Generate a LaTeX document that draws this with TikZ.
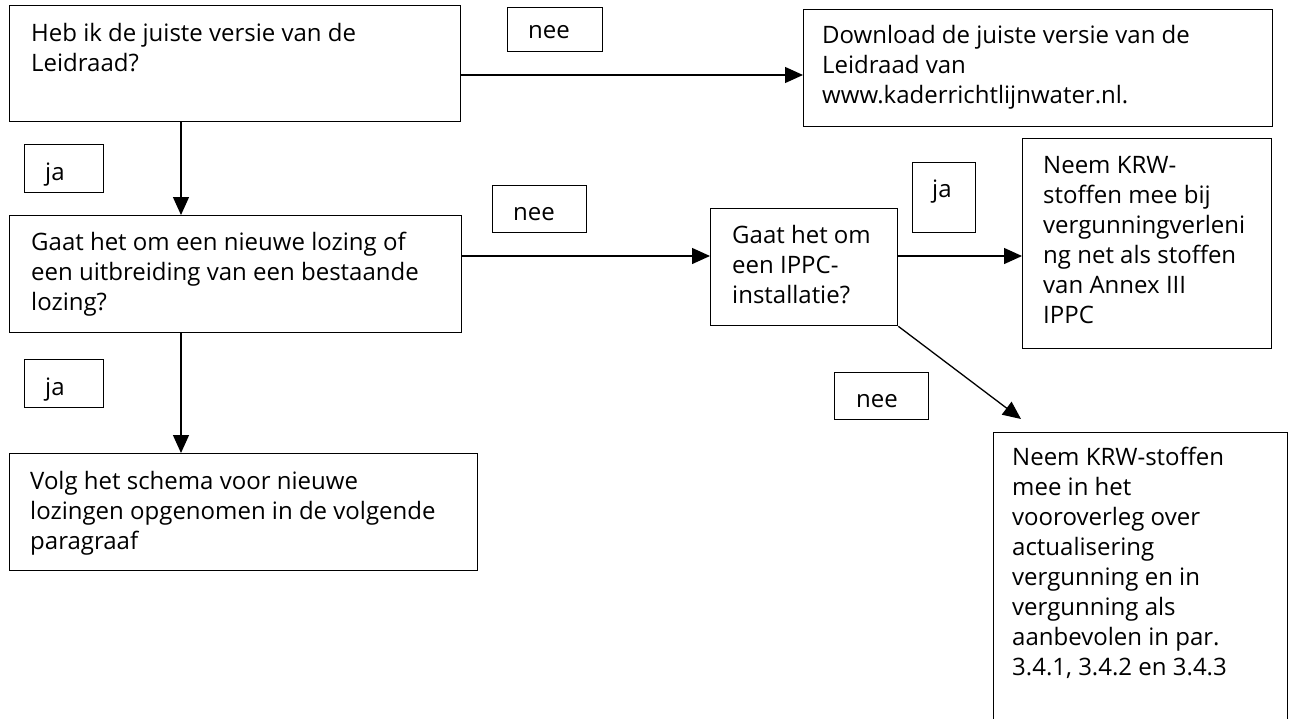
\documentclass[tikz,border=0pt]{standalone}
\usepackage{fontspec}
\setmainfont{Open Sans}
\usetikzlibrary{arrows.meta,calc}
\begin{document}
\begin{tikzpicture}[x=1pt,y=-1pt,
  box/.style={draw, line width=1.3pt, rectangle, inner sep=0pt, anchor=north west},
  txt/.style={inner sep=0pt, anchor=north west, align=left, font=\fontsize{24}{30}\selectfont},
  arr/.style={line width=1.3pt, -{Triangle[length=18pt,width=16pt]}}]
\clip (0,0) rectangle (1289,718);
% boxes
\node[box, minimum width=451, minimum height=116] (b1) at (9,5) {};
\node[box, minimum width=95, minimum height=44] (nee1) at (507,7) {};
\node[box, minimum width=469, minimum height=117] (dl) at (803,9) {};
\node[box, minimum width=79, minimum height=48] (ja1) at (24,144) {};
\node[box, minimum width=452, minimum height=117] (b2) at (9,215) {};
\node[box, minimum width=94, minimum height=47] (nee2) at (492,185) {};
\node[box, minimum width=187, minimum height=117] (ippc) at (710,208) {};
\node[box, minimum width=63, minimum height=70] (ja2) at (912,162) {};
\node[box, minimum width=249, minimum height=210] (n1) at (1022,138) {};
\node[box, minimum width=94, minimum height=47] (nee3) at (834,372) {};
\node[box, minimum width=294, minimum height=320] (n2) at (993,432) {};
\node[box, minimum width=79, minimum height=48] (ja3) at (24,359) {};
\node[box, minimum width=468, minimum height=117] (b3) at (9,453) {};
% texts
\node[txt] (t1) at (31,20) {\strut Heb ik de juiste versie van de\\Leidraad?};
\node[txt] (tnee1) at (528,17) {\strut nee};
\node[txt] (tdl) at (822,22) {\strut Download de juiste versie van de\\Leidraad van\\www.kaderrichtlijnwater.nl.};
\node[txt] (tja1) at (45,159) {\strut ja};
\node[txt] (t2) at (31,229) {\strut Gaat het om een nieuwe lozing of\\een uitbreiding van een bestaande\\lozing?};
\node[txt] (tnee2) at (513,199) {\strut nee};
\node[txt] (tippc) at (732,222) {\strut Gaat het om\\een IPPC-\\installatie?};
\node[txt] (tja2) at (932,176) {\strut ja};
\node[txt] (tn1) at (1043,152) {\strut Neem KRW-\\stoffen mee bij\\vergunningverleni\\ng net als stoffen\\van Annex III\\IPPC};
\node[txt] (tnee3) at (856,386) {\strut nee};
\node[txt] (tn2) at (1012,444) {\strut Neem KRW-stoffen\\mee in het\\vooroverleg over\\actualisering\\vergunning en in\\vergunning als\\aanbevolen in par.\\3.4.1, 3.4.2 en 3.4.3};
\node[txt] (tja3) at (45,374) {\strut ja};
\node[txt] (t3) at (30,468) {\strut Volg het schema voor nieuwe\\lozingen opgenomen in de volgende\\paragraaf};
% connectors
\draw[arr] (b1.east |- 0,75) -- (dl.west |- 0,75);
\draw[arr] (b1.south -| 181,0) -- (b2.north -| 181,0);
\draw[arr] (b2.east |- 0,256) -- (ippc.west |- 0,256);
\draw[arr] (ippc.east |- 0,256) -- (n1.west |- 0,256);
\draw[arr] (ippc.south east) -- ($(n2.north west)+(28,-13)$);
\draw[arr] (b2.south -| 181,0) -- (b3.north -| 181,0);
\end{tikzpicture}
\end{document}
